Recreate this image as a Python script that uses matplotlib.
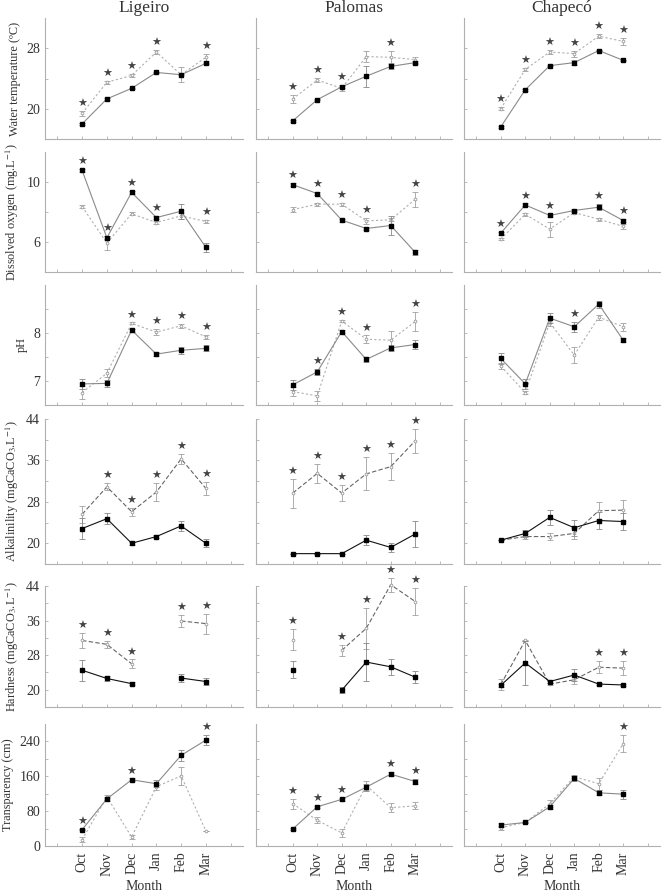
import matplotlib
matplotlib.use("Agg")
import matplotlib.pyplot as plt
import numpy as np

plt.rcParams['font.family'] = ['Liberation Serif', 'DejaVu Serif']
plt.rcParams['mathtext.fontset'] = 'stix'

months = ["Oct", "Nov", "Dec", "Jan", "Feb", "Mar"]
sites = ["Ligeiro", "Palomas", "Chapecó"]

ylabels = ["Water temperature (ºC)",
           r"Dissolved oxygen (mg.L$^{-1}$)",
           "pH",
           r"Alkalinility (mgCaCO$_3$.L$^{-1}$)",
           r"Hardness (mgCaCO$_3$.L$^{-1}$)",
           "Transparency (cm)"]

# solid series (black squares) and dashed series (grey), per row per site
# nan = no sample
nan = np.nan
temp_solid = [[18.0, 21.3, 22.7, 24.8, 24.5, 26.0],
              [18.4, 21.2, 22.9, 24.3, 25.6, 26.1],
              [17.6, 22.5, 25.7, 26.1, 27.7, 26.4]]
temp_solid_err = [[0.1, 0.1, 0.1, 0.1, 0.1, 0.1],
                  [0.1, 0.1, 0.2, 1.4, 0.3, 0.2],
                  [0.1, 0.1, 0.1, 0.3, 0.1, 0.1]]
temp_dash = [[19.4, 23.5, 24.4, 27.5, 24.5, 26.8],
             [21.3, 23.8, 22.7, 26.9, 26.8, 26.5],
             [20.0, 25.2, 27.5, 27.3, 29.6, 28.9]]
temp_dash_err = [[0.3, 0.2, 0.2, 0.3, 1.0, 0.5],
                 [0.5, 0.3, 0.3, 0.7, 0.8, 0.4],
                 [0.2, 0.2, 0.3, 0.4, 0.3, 0.5]]
temp_stars = [[0, 1, 2, 3, 5], [0, 1, 2, 4], [0, 1, 2, 3, 4, 5]]

do_solid = [[10.77, 6.28, 9.31, 7.63, 8.05, 5.64],
            [9.82, 9.23, 7.46, 6.90, 7.10, 5.31],
            [6.59, 8.47, 7.77, 8.10, 8.32, 7.43]]
do_solid_err = [[0.1, 0.1, 0.1, 0.1, 0.5, 0.3],
                [0.1, 0.1, 0.1, 0.1, 0.65, 0.15],
                [0.1, 0.1, 0.1, 0.1, 0.2, 0.1]]
do_dash = [[8.36, 5.93, 7.88, 7.30, 7.74, 7.37],
           [8.16, 8.52, 8.52, 7.41, 7.48, 8.85],
           [6.19, 7.85, 6.86, 7.96, 7.52, 7.04]]
do_dash_err = [[0.1, 0.45, 0.1, 0.1, 0.2, 0.1],
               [0.15, 0.1, 0.1, 0.2, 0.1, 0.5],
               [0.05, 0.1, 0.5, 0.1, 0.1, 0.15]]
do_stars = [[0, 1, 2, 3, 5], [0, 1, 2, 3, 5], [0, 1, 2, 4, 5]]

ph_solid = [[6.94, 6.95, 8.06, 7.56, 7.64, 7.68],
            [6.92, 7.19, 8.03, 7.45, 7.69, 7.76],
            [7.47, 6.94, 8.31, 8.13, 8.60, 7.85]]
ph_solid_err = [[0.1, 0.07, 0.03, 0.04, 0.07, 0.06],
                [0.1, 0.06, 0.04, 0.05, 0.06, 0.1],
                [0.12, 0.1, 0.1, 0.1, 0.07, 0.04]]
ph_dash = [[6.76, 7.16, 8.20, 8.02, 8.15, 7.92],
           [6.78, 6.69, 8.25, 7.87, 7.85, 8.24],
           [7.31, 6.76, 8.22, 7.54, 8.33, 8.13]]
ph_dash_err = [[0.14, 0.08, 0.02, 0.07, 0.04, 0.04],
               [0.1, 0.1, 0.02, 0.08, 0.2, 0.2],
               [0.07, 0.03, 0.08, 0.16, 0.05, 0.08]]
ph_stars = [[2, 3, 4, 5], [1, 2, 3, 5], [3]]

alk_solid = [[22.85, 24.75, 20.0, 21.3, 23.35, 20.0],
             [18.0, 18.0, 18.0, 20.6, 19.2, 21.8],
             [20.6, 21.9, 25.0, 23.0, 24.4, 24.2]]
alk_solid_err = [[2.1, 1.1, 0.3, 0.3, 1.0, 0.8],
                 [0.0, 0.0, 0.0, 1.0, 0.8, 2.5],
                 [0.0, 0.6, 1.5, 1.5, 1.6, 1.7]]
alk_dash = [[25.6, 30.9, 26.1, 29.9, 36.3, 30.6],
            [29.7, 33.5, 29.7, 33.4, 34.8, 39.8],
            [20.6, 21.3, 21.3, 21.9, 26.3, 26.4]]
alk_dash_err = [[1.6, 0.7, 0.8, 1.8, 0.9, 1.2],
                [2.8, 1.9, 1.6, 3.2, 2.6, 2.3],
                [0.0, 0.5, 0.6, 1.0, 1.6, 2.0]]
alk_stars = [[1, 2, 3, 4, 5], [0, 1, 2, 3, 4, 5], []]

hard_solid = [[24.5, 22.6, 21.4, nan, 22.7, 21.9],
              [24.65, nan, 19.9, 26.4, 25.3, 22.9],
              [21.0, 26.2, 21.9, 23.4, 21.3, 21.1]]
hard_solid_err = [[2.4, 0.6, 0.4, nan, 1.0, 0.9],
                  [1.9, nan, 0.7, 4.4, 1.9, 1.4],
                  [0.3, 5.0, 0.3, 1.4, 0.3, 0.2]]
hard_dash = [[31.4, 30.5, 26.0, nan, 35.9, 35.3],
             [31.6, nan, 29.1, 34.2, 44.3, 40.4],
             [21.2, 31.4, 21.3, 22.3, 25.2, 25.0]]
hard_dash_err = [[1.8, 0.8, 1.0, nan, 1.3, 2.3],
                 [2.5, nan, 1.2, 4.8, 1.6, 3.1],
                 [1.3, 0.2, 0.3, 1.0, 1.4, 1.6]]
hard_stars = [[0, 1, 2, 4, 5], [0, 2, 3, 4, 5], [4, 5]]

tr_solid = [[37.6, 108, 152, 143, 208, 243],
            [39, 90, 107, 135, 165, 148],
            [48, 54, 90, 155, 122, 119]]
tr_solid_err = [[2, 4, 3, 8, 12, 12],
                [2, 2, 3, 8, 4, 6],
                [4, 2, 5, 5, 6, 10]]
tr_dash = [[14.6, 113, 20.7, 136, 161, 34.5],
           [97, 59, 30, 139, 88, 92],
           [42, 54, 97, 159, 143, 235]]
tr_dash_err = [[6, 3, 4, 8, 20, 1],
               [12, 7, 9, 10, 10, 8],
               [5, 2, 8, 4, 14, 20]]
tr_stars = [[0, 2, 5], [0, 1, 2, 4, 5], [5]]

rows = [
    (temp_solid, temp_solid_err, temp_dash, temp_dash_err, temp_stars),
    (do_solid, do_solid_err, do_dash, do_dash_err, do_stars),
    (ph_solid, ph_solid_err, ph_dash, ph_dash_err, ph_stars),
    (alk_solid, alk_solid_err, alk_dash, alk_dash_err, alk_stars),
    (hard_solid, hard_solid_err, hard_dash, hard_dash_err, hard_stars),
    (tr_solid, tr_solid_err, tr_dash, tr_dash_err, tr_stars),
]

ylims = [(16, 32), (4, 12), (6.5, 9), (16, 44), (16, 44), (0, 280)]
yticks = [[20, 24, 28], [6, 8, 10], [7, 7.5, 8, 8.5],
          [20, 24, 28, 32, 36, 40, 44], [20, 24, 28, 32, 36, 40, 44],
          [0, 40, 80, 120, 160, 200, 240]]
ylabeled = [[20, 28], [6, 10], [7, 8], [20, 28, 36, 44], [20, 28, 36, 44],
            [0, 80, 160, 240]]

# layout in pixels (figure 664 x 893)
W, H = 664, 893
col_x = [(45, 243), (256, 452), (464, 660)]
row_y = [(18, 139), (152, 272), (285, 405), (419, 564), (586, 707), (724, 846)]

fig = plt.figure(figsize=(W / 100, H / 100), dpi=100)
x = np.arange(len(months))
spine_col = '#b0b0b0'

for r, (s, se, d, de, stars) in enumerate(rows):
    dark = r in (3, 4)
    solid_line = '#111111' if dark else '#8a8a8a'
    dash_line = '#666666' if dark else '#b0b0b0'
    dash_style = (0, (4, 2)) if dark else (0, (2, 2))
    for c in range(3):
        x0, x1 = col_x[c]
        y0, y1 = row_y[r]
        ax = fig.add_axes([x0 / W, 1 - y1 / H, (x1 - x0) / W, (y1 - y0) / H])
        ds = np.array(d[c], dtype=float)
        dse = np.array(de[c], dtype=float)
        ss = np.array(s[c], dtype=float)
        sse = np.array(se[c], dtype=float)
        ax.errorbar(x, ds, yerr=dse, color=dash_line, ls=dash_style, lw=0.8,
                    marker='o', ms=2.0, mfc='white', mec='#9a9a9a', mew=0.6,
                    ecolor='#a0a0a0', elinewidth=0.6, capsize=2.0,
                    capthick=0.6, clip_on=False, zorder=2)
        ax.errorbar(x, ss, yerr=sse, color=solid_line, ls='-', lw=0.8,
                    marker='s', ms=2.2, mfc='black', mec='black',
                    ecolor='#888888', elinewidth=0.6, capsize=2.0,
                    capthick=0.6, clip_on=False, zorder=3)
        for i in stars[c]:
            top = np.nanmax([ss[i] + sse[i], ds[i] + dse[i]])
            ax.annotate("★", (x[i], top), xytext=(0, 5),
                        textcoords='offset points', ha='center', va='center',
                        fontsize=8, color='#444444', family='DejaVu Sans',
                        annotation_clip=False)
        ax.set_xlim(-1.5, 6.5)
        ax.set_ylim(*ylims[r])
        ax.set_yticks(yticks[r])
        ax.set_yticklabels([("%g" % t) if (c == 0 and t in ylabeled[r]) else ""
                            for t in yticks[r]])
        ax.set_xticks(np.arange(-1, 7))
        if r == 5:
            ax.set_xticklabels([""] + months + [""], rotation=90)
            ax.set_xlabel("Month", fontsize=10, color='#333333', labelpad=3)
        else:
            ax.set_xticklabels([])
        ax.tick_params(direction='in', length=2.5, width=0.6, colors=spine_col,
                       labelcolor='#333333', labelsize=10)
        ax.tick_params(axis='x', pad=4)
        for sp in ('top', 'right'):
            ax.spines[sp].set_visible(False)
        for sp in ('left', 'bottom'):
            ax.spines[sp].set_color(spine_col)
            ax.spines[sp].set_linewidth(0.8)
        if r == 0:
            ax.set_title(sites[c], fontsize=12.5, color='#333333', pad=4)
        if c == 0:
            ax.set_ylabel(ylabels[r], fontsize=8.8, color='#333333', labelpad=4)

fig.savefig("out.png", dpi=100)
